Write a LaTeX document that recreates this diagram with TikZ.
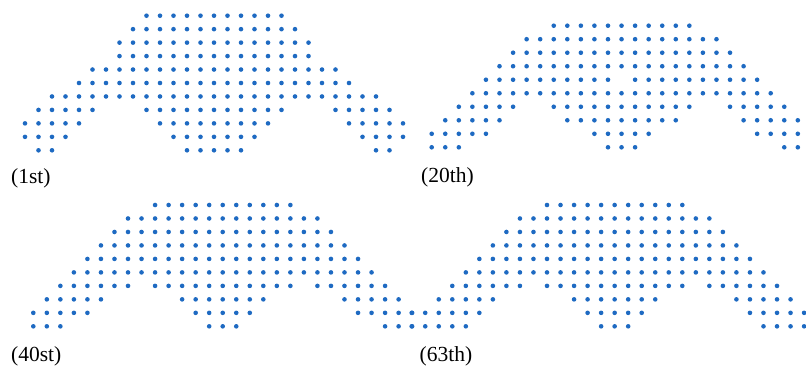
\documentclass[tikz,border=0pt]{standalone}
\usepackage{fontspec}
\setmainfont{Liberation Serif}
\definecolor{dotblue}{RGB}{30,106,194}
\tikzset{
  pdot/.style={fill=dotblue},
  lbl/.style={anchor=base west, inner sep=0pt, font=\fontsize{21.5}{26}\selectfont}
}
\newcommand\dotpanel[5]{%
  \foreach \r/\a/\b in {#5}{%
    \foreach \c in {\a,...,\b}{%
      \fill[pdot] ({#1+#3*\c},{#2+#4*\r}) circle (2.3);
    }%
  }%
}
\begin{document}
\begin{tikzpicture}[x=1pt,y=-1pt]
\useasboundingbox (0,0) rectangle (806,370);
% (1st)
\dotpanel{25}{15.7}{13.5}{13.46}{0/9/19, 1/8/20, 2/7/21, 3/7/21, 4/5/23, 5/4/24, 6/2/26, 7/1/5, 7/9/19, 7/23/27, 8/0/4, 8/10/18, 8/24/28, 9/0/3, 9/11/17, 9/25/28, 10/1/2, 10/12/16, 10/26/27}
% (20th)
\dotpanel{431.7}{25.7}{13.56}{13.51}{0/9/19, 1/7/21, 2/6/22, 3/5/23, 4/4/13, 4/15/24, 5/3/25, 6/2/6, 6/9/19, 6/22/26, 7/1/5, 7/10/18, 7/23/27, 8/0/4, 8/12/16, 8/24/27, 9/0/2, 9/13/15, 9/26/27}
% (40st)
\dotpanel{33.3}{205}{13.53}{13.48}{0/9/19, 1/7/21, 2/6/22, 3/5/23, 4/4/24, 5/3/25, 6/2/7, 6/9/19, 6/21/26, 7/1/5, 7/11/17, 7/23/27, 8/0/4, 8/12/16, 8/24/28, 9/0/2, 9/13/15, 9/26/28}
% (63th)
\dotpanel{411.7}{205}{13.53}{13.48}{0/10/20, 1/8/22, 2/7/23, 3/6/24, 4/5/25, 5/4/26, 6/3/8, 6/10/20, 6/22/27, 7/2/6, 7/12/18, 7/24/28, 8/0/5, 8/13/17, 8/25/29, 9/0/4, 9/14/16, 9/26/29}
\node[lbl] (l1) at (11,183.5) {(1st)};
\node[lbl] (l2) at (421,182) {(20th)};
\node[lbl] (l3) at (11,361) {(40st)};
\node[lbl] (l4) at (419.5,361) {(63th)};
\end{tikzpicture}
\end{document}
